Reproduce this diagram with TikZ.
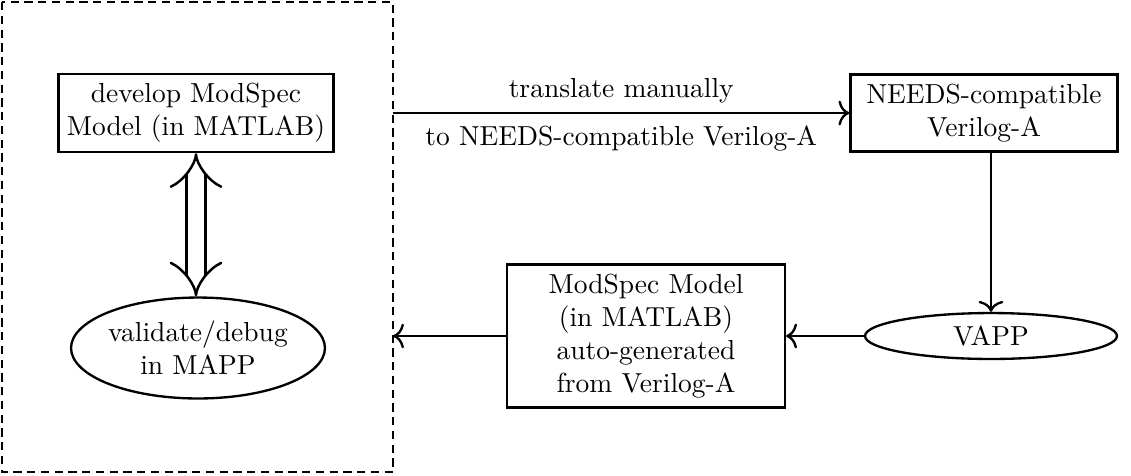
\documentclass[tikz,border=0pt]{standalone}
\usetikzlibrary{shapes.geometric,arrows.meta}
\begin{document}
\begin{tikzpicture}[x=0.3636pt,y=-0.3636pt,
  boxnode/.style={draw,line width=0.85pt,align=center,inner sep=2pt},
  ellnode/.style={draw,ellipse,line width=0.85pt,align=center,inner sep=0pt},
  conn/.style={line width=0.85pt,-{To[length=4pt,width=9pt]}}]
\useasboundingbox (0,0) rectangle (1131,475);
\draw[line width=0.85pt,dash pattern=on 3pt off 2pt] (2,2) rectangle (393,472);
\node[boxnode,minimum width=100pt,minimum height=28.4pt] (dev) at (196,113) {develop ModSpec\\Model (in MATLAB)};
\node[ellnode,minimum width=89.8pt,minimum height=36.7pt] (val) at (198,348) {validate/debug\\in MAPP};
\node[boxnode,minimum width=97pt,minimum height=28pt] (needs) at (984,113) {NEEDS-compatible\\Verilog-A};
\node[ellnode,minimum width=91.6pt,minimum height=16.7pt] (vapp) at (991,336) {VAPP};
\node[boxnode,minimum width=101pt,minimum height=52pt] (gen) at (646,336) {ModSpec Model\\(in MATLAB)\\auto-generated\\from Verilog-A};
\coordinate (dtop) at (393,113);
\coordinate (dbot) at (393,336);
\draw[conn] (dtop) -- node[above=0pt]{translate manually} node[below=1pt]{to NEEDS-compatible Verilog-A} (needs.west);
\draw[conn] (needs.south -| vapp.north) -- (vapp.north);
\draw[conn] (vapp.west) -- (gen.east);
\draw[conn] (gen.west) -- (dbot);
\draw[line width=0.9pt,double,double distance=6pt,{Implies[length=11pt,width=18pt]}-{Implies[length=11pt,width=18pt]}] (dev.south) -- (dev.south |- val.north);
\end{tikzpicture}
\end{document}
